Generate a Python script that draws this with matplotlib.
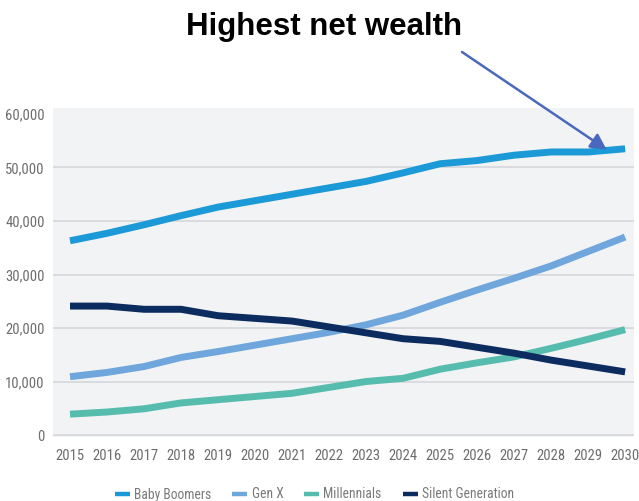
import matplotlib
matplotlib.use("Agg")
import matplotlib.pyplot as plt
from matplotlib import font_manager
from matplotlib.ticker import FuncFormatter, FixedLocator

years = list(range(2015, 2031))
baby_boomers = [36300, 37700, 39300, 41000, 42600, 43800, 45000, 46200, 47400, 49000,
                50700, 51300, 52300, 52900, 52900, 53500]
gen_x = [10900, 11700, 12800, 14500, 15600, 16800, 18000, 19200, 20600, 22400,
         24800, 27100, 29300, 31600, 34300, 37000]
millennials = [3900, 4300, 4900, 6000, 6600, 7200, 7800, 8900, 10000, 10600,
               12300, 13500, 14600, 16200, 17900, 19700]
silent_generation = [24100, 24100, 23500, 23500, 22300, 21800, 21300, 20200, 19100, 18000,
                     17500, 16400, 15300, 14000, 12900, 11800]

series_names = ["Baby Boomers", "Gen X", "Millennials", "Silent Generation"]
series_values = [baby_boomers, gen_x, millennials, silent_generation]
series_colors = ["#1b9ad7", "#6fa6dc", "#56bdae", "#0c2c5f"]

y_ticks = [0, 10000, 20000, 30000, 40000, 50000, 60000]
title_text = "Highest net wealth"


def pick_narrow_font():
    """Return (path or None, scale) for a condensed face if one is installed."""
    for fam in ["Liberation Sans Narrow", "Roboto Condensed", "Open Sans Condensed",
                "Noto Sans", "DejaVu Sans"]:
        fp = font_manager.FontProperties(family=fam, stretch="condensed")
        try:
            path = font_manager.findfont(fp, fallback_to_default=False)
        except Exception:
            continue
        low = path.lower()
        if "condensed" in low or "narrow" in low:
            return path, 1.0
    return None, 0.82


narrow_path, size_scale = pick_narrow_font()


def narrow_props(size):
    if narrow_path:
        fp = font_manager.FontProperties(fname=narrow_path)
    else:
        fp = font_manager.FontProperties(family=["Roboto", "DejaVu Sans"])
    fp.set_size(size * size_scale)
    return fp


tick_fp = narrow_props(10.5)
legend_fp = narrow_props(9.8)

W, H = 639, 501
fig = plt.figure(figsize=(W / 100, H / 100), dpi=100)
fig.patch.set_facecolor("white")

left, right, top, bottom = 53, 634, 108, 437
ax = fig.add_axes([left / W, 1 - bottom / H, (right - left) / W, (bottom - top) / H])
ax.set_facecolor("#f2f3f5")

for yv in y_ticks[:-1]:
    ax.axhline(yv, color="#d8d9dc", lw=1.3, zorder=1)

for name, vals, col in zip(series_names, series_values, series_colors):
    ax.plot(years, vals, color=col, lw=5.0, solid_capstyle="butt",
            solid_joinstyle="round", label=name, zorder=3)

ax.set_xlim(2014.54, 2030.24)
ax.set_ylim(-370, 61120)
ax.xaxis.set_major_locator(FixedLocator(years))
ax.yaxis.set_major_locator(FixedLocator(y_ticks))
ax.yaxis.set_major_formatter(FuncFormatter(lambda v, p: f"{int(v):,}"))
ax.tick_params(axis="both", length=0, colors="#6d6d6d")
ax.tick_params(axis="x", pad=9)
ax.tick_params(axis="y", pad=6)
for lab in ax.get_xticklabels() + ax.get_yticklabels():
    lab.set_fontproperties(tick_fp)
for s in ax.spines.values():
    s.set_visible(False)

leg = fig.legend(loc="center", bbox_to_anchor=(314.5 / W, 1 - 494.5 / H), ncol=4,
                 frameon=False, handlelength=1.1, handletextpad=0.3,
                 columnspacing=1.55, borderpad=0, prop=legend_fp)
for t in leg.get_texts():
    t.set_color("#7a7a7a")
for h in leg.get_lines():
    h.set_linewidth(3.2)

fig.text(324 / W, 1 - 27 / H, title_text, ha="center", va="center",
         fontsize=22.5, fontweight="bold", family=["Liberation Sans", "DejaVu Sans"],
         color="black")

# arrow pointing at the Baby Boomers line near 2030
tip_x, tip_y = 2029.5, baby_boomers[-2] + 450
start = fig.transFigure.inverted().transform((462, H - 52))
ax.annotate("", xy=(tip_x, tip_y), xycoords="data",
            xytext=(start[0], start[1]), textcoords="figure fraction",
            arrowprops=dict(arrowstyle="-|>,head_length=0.95,head_width=0.5",
                            color="#4a68bd", lw=1.8, shrinkA=0, shrinkB=0),
            annotation_clip=False, zorder=5)

fig.savefig("out.png", dpi=100)
